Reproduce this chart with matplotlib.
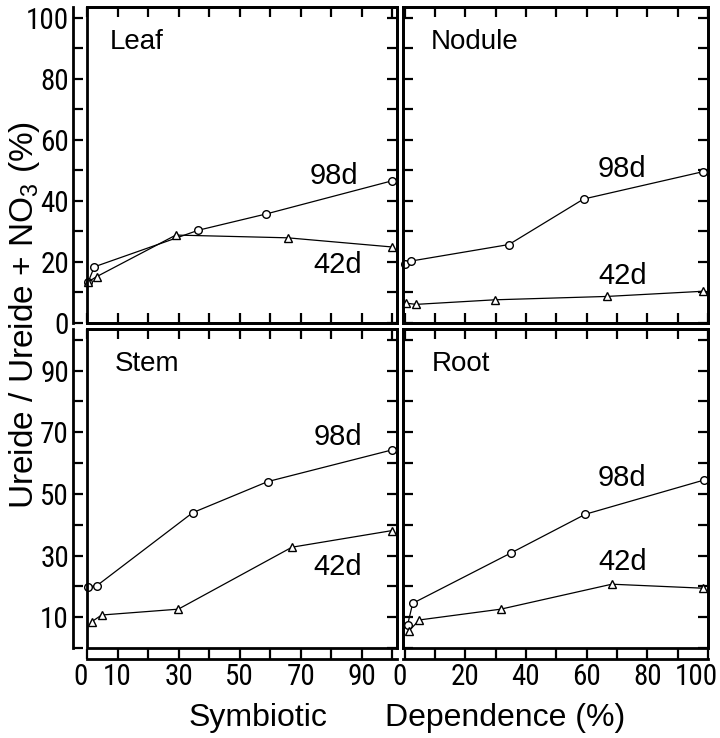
import matplotlib
matplotlib.use("Agg")
import matplotlib.pyplot as plt
from matplotlib.patches import Rectangle
from matplotlib import font_manager as fm
from matplotlib.transforms import ScaledTranslation

plt.rcParams['font.family'] = ['Liberation Sans', 'DejaVu Sans']
plt.rcParams['mathtext.fontset'] = 'custom'
plt.rcParams['mathtext.rm'] = 'Liberation Sans'
plt.rcParams['mathtext.it'] = 'Liberation Sans'

# ---------------- data ----------------
panels = ["Leaf", "Nodule", "Stem", "Root"]

leaf_98_x = [0.4, 2.4, 36.5, 58.6, 100]
leaf_98_y = [13.5, 18.4, 30.4, 35.7, 46.6]
leaf_42_x = [0.4, 3.2, 29.1, 65.7, 99.9]
leaf_42_y = [13.5, 15.2, 28.8, 27.9, 24.9]

nodule_98_x = [0.0, 2.2, 34.4, 59.0, 98.5]
nodule_98_y = [19.3, 20.3, 25.7, 40.6, 49.6]
nodule_42_x = [0.5, 3.8, 29.8, 66.7, 98.5]
nodule_42_y = [6.5, 6.1, 7.6, 8.7, 10.4]

stem_98_x = [0.4, 3.2, 34.6, 59.2, 100]
stem_98_y = [19.9, 20.2, 43.9, 54.0, 64.3]
stem_42_x = [1.5, 4.8, 29.9, 67.1, 99.9]
stem_42_y = [8.5, 10.7, 12.6, 32.7, 38.1]

root_98_x = [1.0, 2.7, 35.2, 59.6, 98.7]
root_98_y = [7.5, 14.5, 30.9, 43.4, 54.5]
root_42_x = [1.5, 4.9, 31.7, 68.3, 98.4]
root_42_y = [5.6, 9.1, 12.6, 20.7, 19.4]

series_98 = {"Leaf": (leaf_98_x, leaf_98_y), "Nodule": (nodule_98_x, nodule_98_y),
             "Stem": (stem_98_x, stem_98_y), "Root": (root_98_x, root_98_y)}
series_42 = {"Leaf": (leaf_42_x, leaf_42_y), "Nodule": (nodule_42_x, nodule_42_y),
             "Stem": (stem_42_x, stem_42_y), "Root": (root_42_x, root_42_y)}

x_ticks = list(range(0, 101, 10))
y_ticks = list(range(0, 101, 10))
xlabels_left = [0, 10, 30, 50, 70, 90]
xlabels_right = [0, 20, 40, 60, 80, 100]
ylabels_top = [0, 20, 40, 60, 80, 100]
ylabels_bottom = [10, 30, 50, 70, 90]

# --------------- pick a condensed font for tick labels ---------------
def available(fam):
    try:
        path = fm.findfont(fm.FontProperties(family=fam), fallback_to_default=False)
        return path is not None
    except Exception:
        return False

narrow = None
for fam in ['Liberation Sans Narrow', 'DejaVu Sans Condensed', 'Roboto Condensed',
            'Open Sans Condensed', 'Noto Sans Condensed']:
    if available(fam):
        narrow = fam
        break
if narrow is not None:
    tickfont = dict(family=[narrow, 'DejaVu Sans'], size=21)
else:
    tickfont = dict(family=['Liberation Sans', 'DejaVu Sans'], size=17)

# --------------- layout (pixels) ---------------
W, H = 720, 738
fig = plt.figure(figsize=(W / 100, H / 100), dpi=100)

def box(x0, y0, x1, y1):
    return [x0 / W, 1 - y1 / H, (x1 - x0) / W, (y1 - y0) / H]

rects = {"Leaf": box(87, 7, 397, 323), "Nodule": box(403, 7, 708, 323),
         "Stem": box(87, 329, 397, 648), "Root": box(403, 329, 708, 648)}
xlims = {"Leaf": (0, 101.5), "Nodule": (-0.5, 99.5), "Stem": (0, 101.5), "Root": (-0.5, 99.5)}
title_x = {"Leaf": 0.075, "Nodule": 0.09, "Stem": 0.09, "Root": 0.095}
lab98 = {"Leaf": (81, 48), "Nodule": (71.5, 50.6), "Stem": (82, 68.5), "Root": (71.5, 55)}
lab42 = {"Leaf": (82, 19), "Nodule": (72, 15.5), "Stem": (82, 26.3), "Root": (72, 28)}
# small horizontal nudges (pixels) of end tick labels, as typeset in the original
xlabel_nudge = {"Stem": {0: -6}, "Root": {0: -5, 100: -12}}

LW = 2.0

for name in panels:
    ax = fig.add_axes(rects[name])
    is_left = name in ("Leaf", "Stem")
    is_bottom = name in ("Stem", "Root")
    x98, y98 = series_98[name]
    x42, y42 = series_42[name]
    ax.plot(x98, y98, color='black', lw=0.9, marker='o', ms=5.5, mfc='white', mec='black', mew=1.0, clip_on=False, zorder=3)
    ax.plot(x42, y42, color='black', lw=0.9, marker='^', ms=6, mfc='white', mec='black', mew=1.0, clip_on=False, zorder=3)
    ax.set_xlim(*xlims[name])
    ax.set_ylim(0, 103.5)
    ax.set_xticks(x_ticks)
    ax.set_yticks(y_ticks)
    for s in ax.spines.values():
        s.set_linewidth(LW)
    ax.tick_params(which='both', direction='in', top=True, right=True, bottom=True, left=True,
                   length=7, width=1.6, pad=3)
    ax.add_patch(Rectangle((0, 0), 1, 1, transform=ax.transAxes, fill=False, lw=LW,
                           edgecolor='black', clip_on=False, zorder=5))
    if is_left:
        ax.spines['left'].set_position(('outward', 10))
        labs = ylabels_top if not is_bottom else ylabels_bottom
        ax.set_yticklabels([str(v) if v in labs else '' for v in y_ticks], **tickfont)
        ax.tick_params(axis='y', pad=3)
    else:
        ax.tick_params(axis='y', labelleft=False)
    if is_bottom:
        ax.spines['bottom'].set_position(('outward', 8))
        labs = xlabels_left if is_left else xlabels_right
        ax.set_xticklabels([str(v) if v in labs else '' for v in x_ticks], **tickfont)
        for v, lab in zip(x_ticks, ax.get_xticklabels()):
            dx = xlabel_nudge.get(name, {}).get(v)
            if dx:
                lab.set_transform(lab.get_transform() + ScaledTranslation(dx / 100, 0, fig.dpi_scale_trans))
    else:
        ax.tick_params(axis='x', labelbottom=False)
    ax.text(title_x[name], 0.89, name, transform=ax.transAxes, fontsize=20, va='center', ha='left')
    ax.text(*lab98[name], "98d", fontsize=21, ha='center', va='center')
    ax.text(*lab42[name], "42d", fontsize=21, ha='center', va='center')

fig.text(25 / W, 1 - 315 / H, "Ureide / Ureide + NO$_3$ (%)", rotation=90,
         ha='center', va='center', fontsize=24)
fig.text(258 / W, 1 - 718 / H, "Symbiotic", ha='center', va='center', fontsize=23)
fig.text(505 / W, 1 - 718 / H, "Dependence (%)", ha='center', va='center', fontsize=23)

fig.savefig("out.png", dpi=100)
